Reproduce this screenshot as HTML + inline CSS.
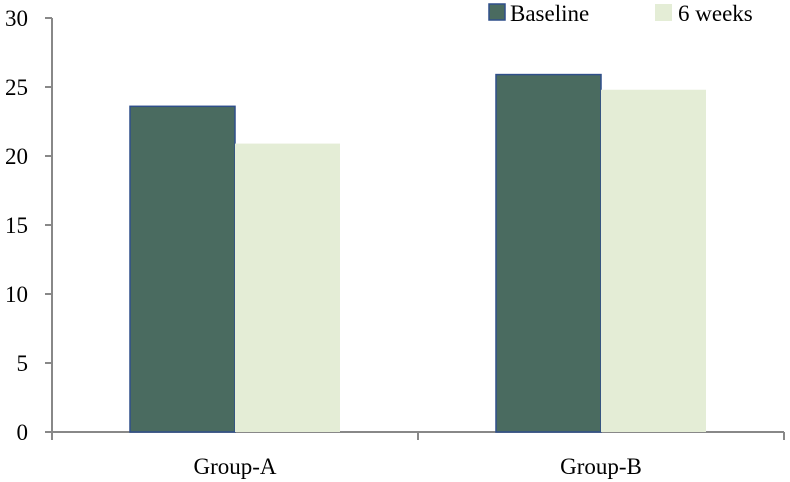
<!DOCTYPE html>
<html><head><meta charset="utf-8"><style>
body{margin:0;background:#fff;}
svg{display:block;font-family:"Liberation Serif",serif;}
</style></head><body>
<svg width="790" height="482">
<g id="axes"></g><g id="bars"></g>
<g>
<rect x="489" y="4" width="16" height="16" fill="#4a6b60" stroke="#2f4f8a" stroke-width="1.5"/>
<text x="510" y="21" font-size="23" fill="#000">Baseline</text>
<rect x="655" y="4" width="17" height="17" fill="#e4edd6"/>
<text x="678" y="21" font-size="23" fill="#000">6 weeks</text>
</g>
</svg>
<script>
const categories=["Group-A","Group-B"];
const baseline=[23.6,25.9];
const sixWeeks=[20.9,24.8];
const yTicks=[0,5,10,15,20,25,30];
const NS="http://www.w3.org/2000/svg";
const x0=52,x1=784,y0=432,y1=18,yMax=30;
const yS=v=>y0-(v/yMax)*(y0-y1);
const cw=(x1-x0)/categories.length;
const bw=105;
function mk(t,a,p){const e=document.createElementNS(NS,t);for(const k in a)e.setAttribute(k,a[k]);p.appendChild(e);return e;}
const ax=document.getElementById('axes'),bg=document.getElementById('bars');
const yl=mk('line',{x1:x0,y1:y1,x2:x0,y2:y0,stroke:'#888','stroke-width':2},ax);


const xl=mk('line',{x1:x0-7,y1:y0,x2:x1,y2:y0,stroke:'#888','stroke-width':2},ax);


yTicks.forEach(v=>{
 const y=yS(v);
 mk('line',{x1:x0-7,y1:y,x2:x0,y2:y,stroke:'#888','stroke-width':2},ax);
 const t=mk('text',{x:28,y:y+8,'font-size':23,'text-anchor':'end',fill:'#000'},ax);
 t.textContent=v;
 
 
});
for(let i=0;i<=categories.length;i++){
 const x=x0+i*cw;
 mk('line',{x1:x,y1:y0,x2:x,y2:y0+8,stroke:'#888','stroke-width':2},ax);
}
categories.forEach((c,i)=>{
 const cx=x0+cw*(i+0.5);
 const t=mk('text',{x:cx,y:474,'font-size':23,'text-anchor':'middle',fill:'#000'},ax);
 t.textContent=c;
 
 
 const b=mk('rect',{x:cx-bw,y:yS(baseline[i]),width:bw,height:y0-yS(baseline[i]),fill:'#4a6b60',stroke:'#2f4f8a','stroke-width':1.5},bg);
 
 
 const s=mk('rect',{x:cx,y:yS(sixWeeks[i]),width:bw,height:y0-yS(sixWeeks[i]),fill:'#e4edd6'},bg);
 
 
});
</script>
</body></html>
